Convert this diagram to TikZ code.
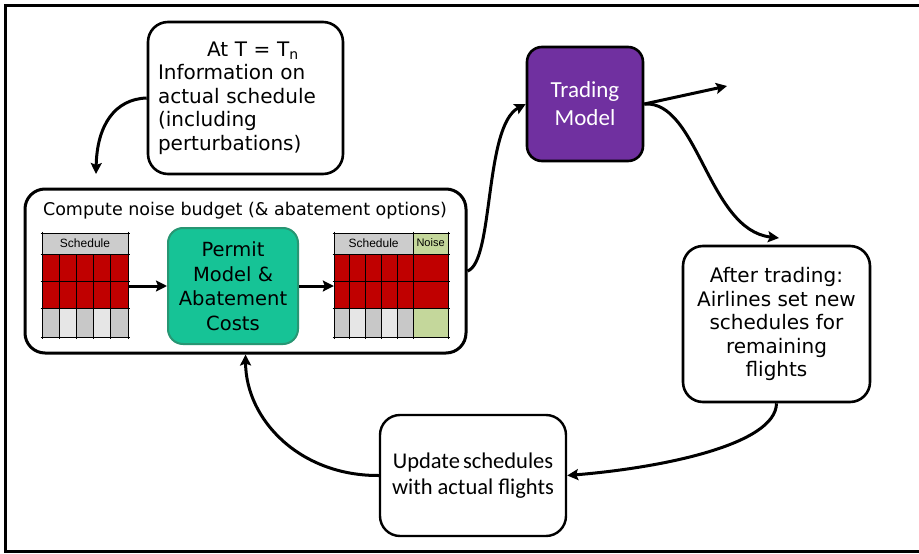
\documentclass[tikz,border=0pt]{standalone}
\usepackage{fontspec}
\setmainfont{DejaVu Sans}
\newfontfamily\calfont{Carlito}
\newfontfamily\arfont{Liberation Sans}
\usetikzlibrary{arrows.meta}
\definecolor{cellred}{HTML}{C00000}
\definecolor{hdrgray}{HTML}{CCCCCC}
\definecolor{cellgray}{HTML}{C8C8C8}
\definecolor{celllight}{HTML}{E6E6E6}
\definecolor{noisegreen}{HTML}{C4D79B}
\definecolor{permitfill}{RGB}{22,195,150}
\definecolor{permitdraw}{RGB}{40,150,115}
\definecolor{tradefill}{HTML}{7030A0}
\tikzset{
  roundbox/.style={draw=black, line width=2.6pt, rounded corners=20pt, fill=white, inner sep=0pt},
  arr/.style={line width=3pt, -{Stealth[length=11pt,width=11pt,inset=2pt]}},
  grid line/.style={line width=0.8pt, black},
}
\begin{document}
\begin{tikzpicture}[x=1pt,y=-1pt]
\useasboundingbox (0,0) rectangle (919,554);
% outer frame (open on the right)
\draw[line width=3.5pt] (919,5.5) -- (5.5,5.5) -- (5.5,551.5) -- (919,551.5);

% top info box
\node[roundbox, minimum width=195pt, minimum height=152pt, text width=175pt, align=left,
      font=\fontsize{20}{23.5}\selectfont] (topbox) at (245.5,98)
  {\hspace*{49pt}At T = T\raisebox{-3pt}{\fontsize{14}{14}\selectfont n}\\Information on\\actual schedule\\(including\\perturbations)};

% big compute box
\node[roundbox, line width=3pt, minimum width=441pt, minimum height=164pt] (bigbox) at (245.5,271) {};
\node[anchor=base, inner sep=0pt, font=\fontsize{17.5}{20}\selectfont] (title) at (245,215)
  {Compute noise budget (\& abatement options)};

% left table
\node[minimum width=86pt, minimum height=104pt, inner sep=0pt] (tabL) at (85,285) {};
\fill[hdrgray] (42,233) rectangle (128,254);
\fill[cellred] (42,254) rectangle (128,308);
\foreach \i/\c in {0/cellgray,1/celllight,2/cellgray,3/celllight,4/cellgray}
  \fill[\c] ({42+17.2*\i},308) rectangle ({42+17.2*(\i+1)},337);
\foreach \yy in {233,254,281,308,337}
  \draw[grid line] (40.5,\yy) -- (129.5,\yy);
\draw[grid line] (42,231.5) -- (42,338.5);
\draw[grid line] (128,231.5) -- (128,338.5);
\foreach \i in {1,2,3,4}
  \draw[grid line] ({42+17.2*\i},254) -- ({42+17.2*\i},338.5);
\node[inner sep=0pt, font=\arfont\fontsize{12}{12}\selectfont] (schL) at (85,243.5) {Schedule};

% right table
\node[minimum width=114pt, minimum height=104pt, inner sep=0pt] (tabR) at (391,285) {};
\fill[hdrgray] (334,233) rectangle (413.3,254);
\fill[noisegreen] (413.3,233) rectangle (448,254);
\fill[cellred] (334,254) rectangle (448,308);
\foreach \i/\c in {0/cellgray,1/celllight,2/cellgray,3/celllight,4/cellgray}
  \fill[\c] ({334+15.86*\i},308) rectangle ({334+15.86*(\i+1)},337);
\fill[noisegreen] (413.3,308) rectangle (448,337);
\foreach \yy in {233,254,281,308,337}
  \draw[grid line] (332.5,\yy) -- (449.5,\yy);
\draw[grid line] (334,231.5) -- (334,338.5);
\draw[grid line] (448,231.5) -- (448,338.5);
\draw[grid line] (413.3,231.5) -- (413.3,338.5);
\foreach \i in {1,2,3,4}
  \draw[grid line] ({334+15.86*\i},254) -- ({334+15.86*\i},338.5);
\node[inner sep=0pt, font=\arfont\fontsize{12}{12}\selectfont] (schR) at (373.6,243.5) {Schedule};
\node[inner sep=0pt, font=\arfont\fontsize{11}{11}\selectfont] (noiseR) at (430.6,242.5) {Noise};

% permit model box
\node[draw=permitdraw, line width=2pt, fill=permitfill, rounded corners=15pt, inner sep=0pt,
      minimum width=130pt, minimum height=116pt, align=center,
      font=\fontsize{19.5}{24.5}\selectfont] (permit) at (233,286)
  {Permit\\Model \&\\Abatement\\Costs};

% trading model
\node[draw=black, line width=2.6pt, fill=tradefill, rounded corners=15pt, inner sep=0pt,
      minimum width=116pt, minimum height=114pt, align=center, text=white,
      font=\calfont\fontsize{23}{28}\selectfont] (trading) at (585,104)
  {Trading\\Model};

% after trading box
\node[roundbox, minimum width=187pt, minimum height=156pt, align=center,
      font=\fontsize{20}{23.5}\selectfont] (after) at (776.5,324)
  {After trading:\\Airlines set new\\schedules for\\remaining\\flights};

% update box
\node[roundbox, line width=2.4pt, minimum width=186pt, minimum height=121pt, align=center,
      font=\calfont\fontsize{22.5}{26}\selectfont] (update) at (473,475.5)
  {Update\hspace{-2pt} schedules\\with actual flights};

% free ends
\coordinate (c1) at (96,174);
\coordinate (c3) at (727,86);
\coordinate (c4) at (779,238);

% connectors
\draw[arr] (topbox.west) .. controls (115,99) and (97,125) .. (c1);
\draw[arr] (tabL.east |- permit.west) -- (permit.west);
\draw[arr] (permit.east) -- (tabR.west |- permit.east);
\draw[arr] (bigbox.east) .. controls (494,262) and (484,126) .. (trading.west);
\draw[arr] (trading.east) -- (c3);
\draw[arr] (trading.east) .. controls (698,100) and (708,230) .. (c4);
\draw[arr] (after.south) .. controls (776,445) and (660,468) .. (update.east);
\draw[arr] (update.west) .. controls (300,476) and (246,420) .. (bigbox.south);
\end{tikzpicture}
\end{document}
